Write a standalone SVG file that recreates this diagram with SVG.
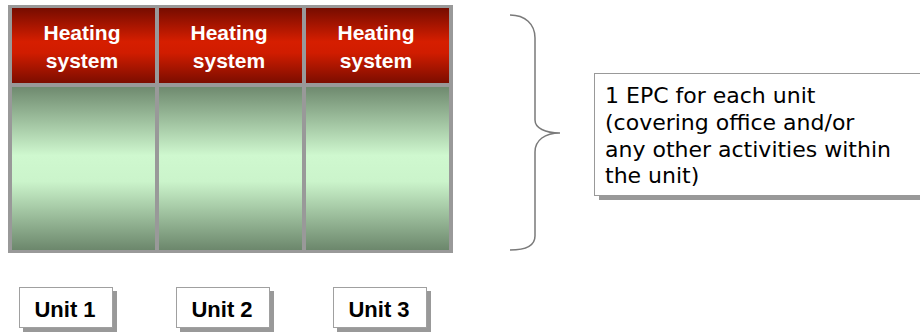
<svg xmlns="http://www.w3.org/2000/svg" width="920" height="332" viewBox="0 0 920 332">
  <defs>
    <linearGradient id="red" x1="0" y1="0" x2="0" y2="1">
      <stop offset="0" stop-color="#760c00"/>
      <stop offset="0.45" stop-color="#d61e00"/>
      <stop offset="0.6" stop-color="#d01c00"/>
      <stop offset="1" stop-color="#7c0d00"/>
    </linearGradient>
    <linearGradient id="green" x1="0" y1="0" x2="0" y2="1">
      <stop offset="0" stop-color="#6f8a6f"/>
      <stop offset="0.42" stop-color="#cff8cf"/>
      <stop offset="0.58" stop-color="#cbf4cb"/>
      <stop offset="1" stop-color="#6c876c"/>
    </linearGradient>
    <style>
      .ht { font-family: "Liberation Sans", Arial, sans-serif; font-weight: bold; font-size: 21px; fill: #ffffff; text-anchor: middle; }
      .ut { font-family: "Liberation Sans", Arial, sans-serif; font-weight: bold; font-size: 22px; fill: #000000; text-anchor: middle; }
      .et { font-family: "DejaVu Sans", Verdana, sans-serif; font-size: 22px; fill: #000000; }
      .ubox { fill: #ffffff; stroke: #a0a0a0; stroke-width: 1; }
      .shadow { fill: #999999; }
    </style>
  </defs>

  <g id="frame">
    <rect x="8" y="5" width="445" height="248" fill="#999999"/>
  </g>

  <g id="cell1">
    <rect x="12" y="8" width="143" height="75" fill="url(#red)"/>
    <rect x="12" y="87" width="143" height="163" fill="url(#green)"/>
    <text class="ht" x="82" y="40">Heating</text>
    <text class="ht" x="82" y="68">system</text>
  </g>
  <g id="cell2">
    <rect x="159" y="8" width="143" height="75" fill="url(#red)"/>
    <rect x="159" y="87" width="143" height="163" fill="url(#green)"/>
    <text class="ht" x="229" y="40">Heating</text>
    <text class="ht" x="229" y="68">system</text>
  </g>
  <g id="cell3">
    <rect x="306" y="8" width="143" height="75" fill="url(#red)"/>
    <rect x="306" y="87" width="143" height="163" fill="url(#green)"/>
    <text class="ht" x="376" y="40">Heating</text>
    <text class="ht" x="376" y="68">system</text>
  </g>

  <g id="connectors">
    <path d="M510,15 C525,15 535,24 535,38 L535,120 C535,128 545,133 560,133 C545,133 535,140 535,152 L535,236 C535,246 525,250 510,250" fill="none" stroke="#7a7a7a" stroke-width="1.5"/>
  </g>

  <g id="epc">
    <rect class="shadow" x="599" y="78" width="330" height="122"/>
    <rect x="594.5" y="73.5" width="335" height="122" fill="#ffffff" stroke="#999999" stroke-width="1"/>
    <text class="et" x="605" y="103">1 EPC for each unit</text>
    <text class="et" x="605" y="130">(covering office and/or</text>
    <text class="et" x="605" y="157">any other activities within</text>
    <text class="et" x="605" y="183">the unit)</text>
  </g>

  <g id="unit1">
    <rect class="shadow" x="23" y="291" width="94" height="41"/>
    <rect class="ubox" x="19.5" y="287.5" width="93" height="40"/>
    <text class="ut" x="65" y="317">Unit 1</text>
  </g>
  <g id="unit2">
    <rect class="shadow" x="180" y="291" width="94" height="41"/>
    <rect class="ubox" x="176.5" y="287.5" width="93" height="40"/>
    <text class="ut" x="222" y="317">Unit 2</text>
  </g>
  <g id="unit3">
    <rect class="shadow" x="337" y="291" width="94" height="41"/>
    <rect class="ubox" x="333.5" y="287.5" width="93" height="40"/>
    <text class="ut" x="379" y="317">Unit 3</text>
  </g>
</svg>
